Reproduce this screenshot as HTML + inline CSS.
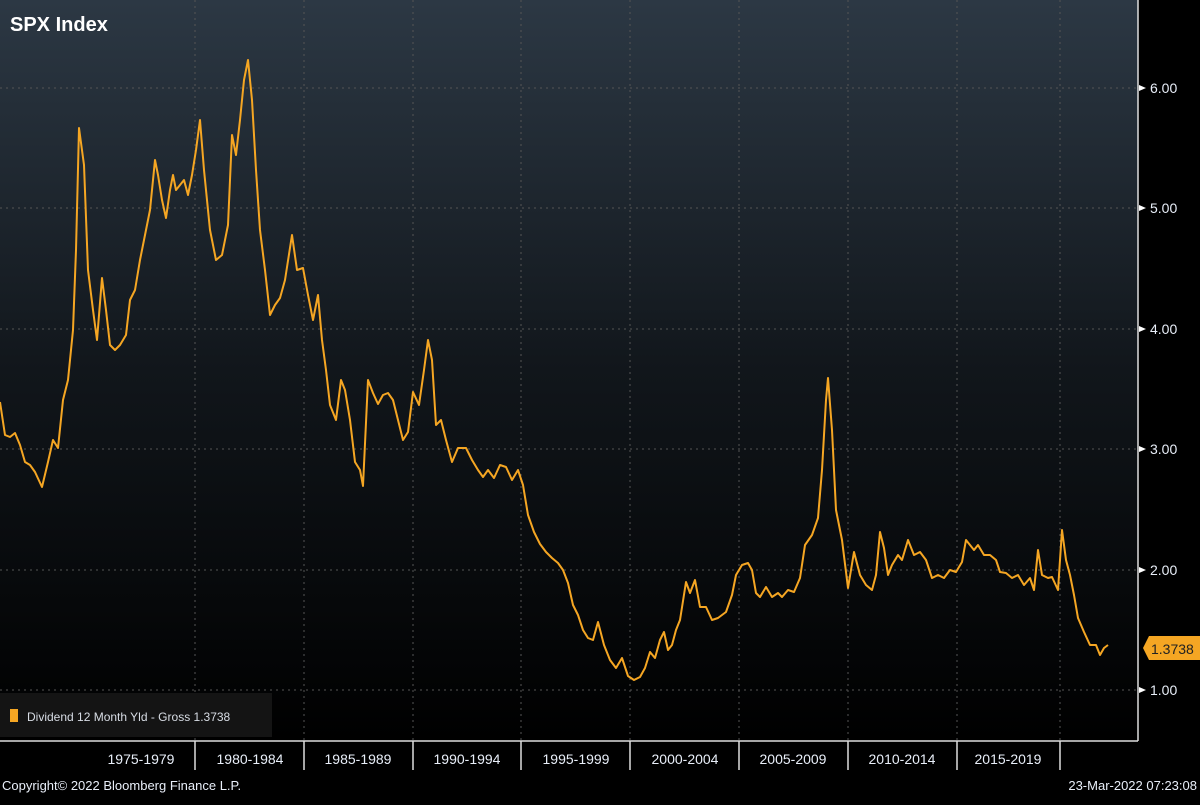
<!DOCTYPE html>
<html><head><meta charset="utf-8"><style>
html,body{margin:0;padding:0;background:#000;}
body{width:1200px;height:800px;overflow:hidden;position:relative;font-family:"Liberation Sans",sans-serif;}
</style></head><body>
<svg width="1200" height="800" viewBox="0 0 1200 800" xmlns="http://www.w3.org/2000/svg">
<defs>
<linearGradient id="bg" x1="0" y1="0" x2="0" y2="1">
<stop offset="0" stop-color="#2c3844"/>
<stop offset="0.5" stop-color="#11161b"/>
<stop offset="1" stop-color="#000"/>
</linearGradient>
</defs>
<rect x="0" y="0" width="1200" height="800" fill="#000"/>
<rect x="0" y="0" width="1138" height="741" fill="url(#bg)"/>
<g stroke="#555" stroke-width="1" stroke-dasharray="2,4">
<line x1="0" y1="88" x2="1138" y2="88"/>
<line x1="0" y1="208" x2="1138" y2="208"/>
<line x1="0" y1="329" x2="1138" y2="329"/>
<line x1="0" y1="449" x2="1138" y2="449"/>
<line x1="0" y1="570" x2="1138" y2="570"/>
<line x1="0" y1="690" x2="1138" y2="690"/>
<line x1="195" y1="0" x2="195" y2="741"/>
<line x1="304" y1="0" x2="304" y2="741"/>
<line x1="413" y1="0" x2="413" y2="741"/>
<line x1="521" y1="0" x2="521" y2="741"/>
<line x1="630" y1="0" x2="630" y2="741"/>
<line x1="739" y1="0" x2="739" y2="741"/>
<line x1="848" y1="0" x2="848" y2="741"/>
<line x1="957" y1="0" x2="957" y2="741"/>
<line x1="1060" y1="0" x2="1060" y2="741"/>
</g>
<line x1="1138" y1="0" x2="1138" y2="741" stroke="#ddd" stroke-width="1.5"/>
<line x1="0" y1="741" x2="1138" y2="741" stroke="#ddd" stroke-width="1.5"/>
<g stroke="#ddd" stroke-width="1.5">
<line x1="195" y1="741" x2="195" y2="770"/><line x1="304" y1="741" x2="304" y2="770"/><line x1="413" y1="741" x2="413" y2="770"/><line x1="521" y1="741" x2="521" y2="770"/><line x1="630" y1="741" x2="630" y2="770"/><line x1="739" y1="741" x2="739" y2="770"/><line x1="848" y1="741" x2="848" y2="770"/><line x1="957" y1="741" x2="957" y2="770"/><line x1="1060" y1="741" x2="1060" y2="770"/>
</g>
<rect x="0" y="693" width="272" height="44" fill="#141414"/>
<polyline fill="none" stroke="#f5a623" stroke-width="2" stroke-linejoin="round" points="0,402 5,435 10,437 15,433 20,445 25,462 30,465 35,472 42,487 48,462 53,440 58,448 63,400 68,380 73,330 76,250 79,128 84,165 88,270 93,310 97,340 102,278 106,310 110,345 115,350 120,345 126,335 130,300 135,290 140,260 145,235 150,210 155,160 158,175 162,200 166,218 170,190 173,175 176,190 180,185 184,180 188,195 192,175 196,150 200,120 204,170 210,230 216,260 222,255 228,225 232,135 236,155 240,120 244,80 248,60 252,100 256,170 260,230 265,270 270,315 275,305 280,298 285,280 292,235 297,270 303,268 308,295 313,320 318,295 322,340 326,370 330,405 336,420 341,380 345,390 350,420 355,462 360,470 363,486 368,380 373,393 378,404 383,395 388,393 393,400 398,420 403,440 408,432 413,392 419,405 424,370 428,340 432,360 436,425 441,420 446,440 452,462 458,448 466,448 472,460 478,470 483,477 488,470 494,478 500,465 506,467 512,480 518,470 523,485 528,515 534,532 540,544 546,552 552,558 558,563 563,570 568,583 573,605 578,615 583,630 588,638 593,640 598,622 604,645 610,660 616,668 622,658 628,676 634,680 640,677 645,668 650,652 655,658 660,640 664,632 668,650 672,645 676,630 680,620 686,582 690,593 695,580 700,607 706,607 712,620 718,618 726,612 732,595 736,575 742,565 748,563 752,570 756,593 760,597 766,587 772,597 778,593 782,597 788,590 794,592 800,578 805,545 812,535 818,518 822,470 826,400 828,378 832,430 836,510 842,540 848,588 854,552 860,575 866,585 872,590 876,575 880,532 884,548 888,575 892,565 898,555 902,560 908,540 914,555 920,552 926,560 932,578 938,575 944,578 950,570 956,572 962,562 966,540 970,545 974,550 978,545 984,555 990,555 996,560 1000,572 1006,573 1012,578 1018,575 1024,585 1030,578 1034,590 1038,550 1042,575 1048,578 1052,577 1058,590 1062,530 1066,560 1070,575 1074,595 1078,618 1084,632 1090,645 1096,645 1100,655 1104,648 1108,645"/>
<text x="10" y="31" font-size="20" font-weight="bold" fill="#fff">SPX Index</text>
<g font-size="14" fill="#e8eef8">
<text x="1150" y="93">6.00</text><text x="1150" y="213">5.00</text><text x="1150" y="334">4.00</text><text x="1150" y="454">3.00</text><text x="1150" y="575">2.00</text><text x="1150" y="695">1.00</text>
</g>
<g fill="#fff">
<polygon points="1139,85 1146,88 1139,91"/><polygon points="1139,205 1146,208 1139,211"/><polygon points="1139,326 1146,329 1139,332"/><polygon points="1139,446 1146,449 1139,452"/><polygon points="1139,567 1146,570 1139,573"/><polygon points="1139,687 1146,690 1139,693"/>
</g>
<polygon points="1143,648 1149,636 1200,636 1200,660 1149,660" fill="#f5a623"/>
<text x="1151" y="654" font-size="14" fill="#222">1.3738</text>
<rect x="10" y="709" width="8" height="13" fill="#f5a623"/>
<text x="27" y="721" font-size="12" fill="#d8dde5">Dividend 12 Month Yld - Gross  1.3738</text>
<g font-size="14" fill="#e8eef8" text-anchor="middle">
<text x="141" y="764">1975-1979</text><text x="250" y="764">1980-1984</text><text x="358" y="764">1985-1989</text><text x="467" y="764">1990-1994</text><text x="576" y="764">1995-1999</text><text x="685" y="764">2000-2004</text><text x="793" y="764">2005-2009</text><text x="902" y="764">2010-2014</text><text x="1008" y="764">2015-2019</text>
</g>
<text x="2" y="790" font-size="13" fill="#e8eef8">Copyright© 2022 Bloomberg Finance L.P.</text>
<text x="1197" y="790" font-size="13" fill="#e8eef8" text-anchor="end">23-Mar-2022 07:23:08</text>
</svg>
</body></html>
